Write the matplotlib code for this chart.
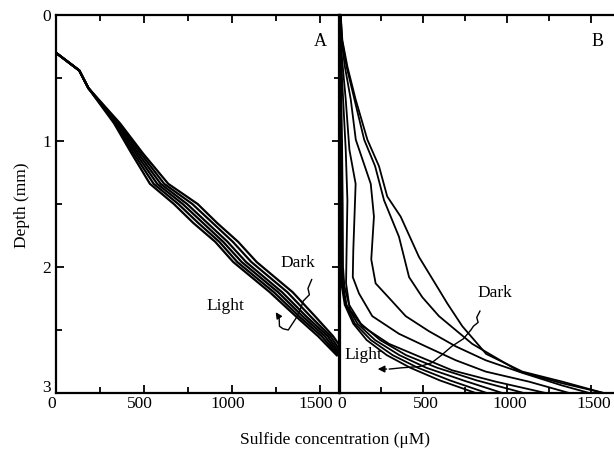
import numpy as np
import matplotlib
matplotlib.use("Agg")
import matplotlib.pyplot as plt
import matplotlib.transforms as mtransforms
from matplotlib.ticker import MultipleLocator

plt.rcParams['font.family'] = ['Liberation Serif', 'DejaVu Serif']

# panel A: sulfide profiles, dark -> light
depth_a = [0.30, 0.44, 0.58, 0.86, 1.10, 1.34, 1.50, 1.65, 1.80, 1.96, 2.20, 2.40, 2.55, 2.70]
conc_a = [
    [0, 132, 184, 364, 495, 638, 805, 915, 1035, 1140, 1345, 1478, 1575, 1650],
    [0, 132, 184, 357, 482, 615, 775, 890, 1005, 1110, 1315, 1452, 1560, 1632],
    [0, 132, 184, 350, 468, 595, 745, 860, 975, 1080, 1285, 1428, 1545, 1620],
    [0, 132, 184, 343, 455, 575, 720, 835, 950, 1055, 1262, 1408, 1528, 1612],
    [0, 132, 184, 336, 442, 555, 695, 808, 928, 1030, 1238, 1388, 1510, 1603],
    [0, 132, 184, 330, 430, 534, 670, 780, 905, 1007, 1215, 1370, 1490, 1595],
]

# panel B: profiles with their own depth points
depth_b = [
    [0, 0.20, 0.41, 0.67, 0.99, 1.20, 1.44, 1.60, 1.92, 2.18, 2.29, 2.47, 2.69, 2.83, 2.91, 3.0],
    [0, 0.20, 0.41, 0.67, 0.99, 1.20, 1.47, 1.76, 2.08, 2.24, 2.39, 2.61, 2.83, 2.92, 3.0],
    [0, 0.20, 0.41, 0.67, 0.99, 1.34, 1.60, 1.94, 2.13, 2.26, 2.39, 2.51, 2.63, 2.74, 2.84, 2.94, 3.0],
    [0, 0.30, 0.67, 1.07, 1.34, 1.87, 2.08, 2.21, 2.39, 2.53, 2.63, 2.74, 2.83, 2.91, 3.0],
    [0, 0.50, 1.07, 1.47, 2.13, 2.34, 2.47, 2.61, 2.71, 2.82, 2.91, 3.0],
    [0, 0.5, 1.0, 1.5, 2.0, 2.15, 2.30, 2.45, 2.58, 2.70, 2.80, 2.90, 3.0],
    [0, 0.5, 1.0, 1.5, 2.0, 2.15, 2.30, 2.45, 2.58, 2.70, 2.80, 2.90, 3.0],
    [0, 0.5, 1.0, 1.5, 2.0, 2.15, 2.30, 2.45, 2.58, 2.70, 2.80, 2.90, 3.0],
    [0, 0.5, 1.0, 1.5, 2.0, 2.15, 2.30, 2.45, 2.58, 2.70, 2.80, 2.90, 3.0],
]
conc_b = [
    [10, 20, 50, 99, 169, 238, 287, 367, 476, 595, 645, 734, 876, 1091, 1329, 1575],
    [10, 18, 45, 92, 150, 215, 268, 357, 417, 496, 595, 793, 1075, 1320, 1575],
    [10, 15, 35, 70, 100, 189, 208, 192, 218, 308, 397, 536, 695, 873, 1091, 1327, 1490],
    [10, 15, 40, 62, 99, 85, 82, 119, 198, 357, 516, 695, 873, 1131, 1370],
    [8, 18, 40, 50, 42, 65, 139, 298, 476, 674, 933, 1230],
    [6, 12, 18, 22, 24, 32, 60, 130, 245, 400, 585, 820, 1100],
    [5, 9, 14, 17, 18, 25, 45, 110, 215, 360, 520, 740, 972],
    [3, 6, 10, 12, 14, 20, 40, 95, 190, 320, 470, 660, 880],
    [2, 4, 7, 9, 10, 16, 34, 85, 165, 285, 425, 600, 814],
]

# hand-drawn "Dark -> Light" arrows
arrow_a_x = [1453, 1432, 1440, 1405, 1390, 1367, 1320, 1290, 1270, 1268, 1240]
arrow_a_y = [2.10, 2.17, 2.22, 2.27, 2.33, 2.40, 2.50, 2.49, 2.47, 2.40, 2.34]
arrow_b_x = [839, 820, 828, 800, 785, 740, 671, 610, 552, 480, 373, 300, 214]
arrow_b_y = [2.35, 2.40, 2.44, 2.47, 2.50, 2.57, 2.63, 2.70, 2.76, 2.79, 2.80, 2.81, 2.81]

W, H = 614, 457
fig = plt.figure(figsize=(W / 100, H / 100), dpi=100)
ax_a = fig.add_axes([56 / W, 64 / H, (340 - 56) / W, (393 - 15) / H])
ax_b = fig.add_axes([339 / W, 64 / H, (618 - 339) / W, (393 - 15) / H], sharey=ax_a)
ax_b.patch.set_alpha(0)

fs = 12.5
for d in conc_a:
    ax_a.plot(d, depth_a, color='black', lw=1.6, solid_joinstyle='round')
for dd, cc in zip(depth_b, conc_b):
    ax_b.plot(cc, dd, color='black', lw=1.3, solid_joinstyle='round')

ax_a.set_xlim(0, 1614)
ax_b.set_xlim(0, (618 - 339) / 0.168)
ax_a.set_ylim(3, 0)

for ax in (ax_a, ax_b):
    for s in ax.spines.values():
        s.set_linewidth(1.6)
    ax.xaxis.set_major_locator(MultipleLocator(500))
    ax.xaxis.set_minor_locator(MultipleLocator(250))
    ax.tick_params(which='both', direction='in', top=True, width=1.3, labelsize=fs)
    ax.tick_params(which='major', length=6)
    ax.tick_params(which='minor', length=4)
    ax.tick_params(axis='x', pad=2)

ax_a.set_yticks([0, 1, 2, 3])
ax_a.set_yticklabels(['0', '1', '2', '3'])
ax_a.yaxis.set_minor_locator(MultipleLocator(0.5))
ax_a.tick_params(axis='y', which='both', right=True)
ax_b.tick_params(axis='y', which='both', left=False, right=False, labelleft=False)

# nudge x tick labels apart where the two panels meet
for lab in ax_a.get_xticklabels():
    lab.set_transform(lab.get_transform() + mtransforms.ScaledTranslation(-4 / 100, 0, fig.dpi_scale_trans))
for lab in ax_b.get_xticklabels():
    lab.set_transform(lab.get_transform() + mtransforms.ScaledTranslation(3 / 100, 0, fig.dpi_scale_trans))
# lift the bottom depth label clear of the corner "0"
ylab3 = ax_a.get_yticklabels()[-1]
ylab3.set_transform(ylab3.get_transform() + mtransforms.ScaledTranslation(0, 7 / 100, fig.dpi_scale_trans))

ax_a.text(1500, 0.21, 'A', fontsize=13, ha='center', va='center')
ax_b.text(1540, 0.21, 'B', fontsize=13, ha='center', va='center')

ax_a.text(1377, 1.97, 'Dark', fontsize=fs, ha='center', va='center')
ax_a.text(960, 2.31, 'Light', fontsize=fs, ha='center', va='center')
ax_b.text(928, 2.21, 'Dark', fontsize=fs, ha='center', va='center')
ax_b.text(145, 2.70, 'Light', fontsize=fs, ha='center', va='center')

ax_a.plot(arrow_a_x[:-1], arrow_a_y[:-1], color='black', lw=1.0)
ax_a.annotate('', xy=(arrow_a_x[-1], arrow_a_y[-1]), xytext=(arrow_a_x[-2], arrow_a_y[-2]),
              arrowprops=dict(arrowstyle='-|>', color='black', lw=1.0, mutation_scale=9))
ax_b.plot(arrow_b_x[:-1], arrow_b_y[:-1], color='black', lw=1.0)
ax_b.annotate('', xy=(arrow_b_x[-1], arrow_b_y[-1]), xytext=(arrow_b_x[-2], arrow_b_y[-2]),
              arrowprops=dict(arrowstyle='-|>', color='black', lw=1.0, mutation_scale=10))

fig.text(22 / W, 1 - 205 / H, 'Depth (mm)', rotation=90, fontsize=fs, ha='center', va='center')
fig.text(335 / W, 1 - 440 / H, 'Sulfide concentration (μM)', fontsize=fs, ha='center', va='center')

fig.savefig('out.png', dpi=100)
